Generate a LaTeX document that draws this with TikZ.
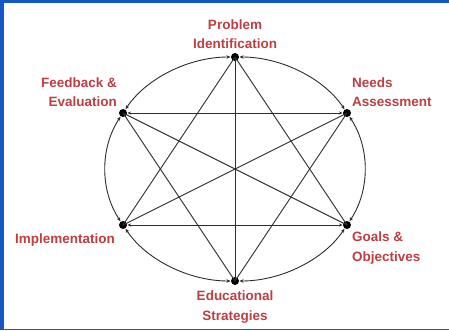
\documentclass[tikz,border=0pt]{standalone}
\usepackage{fontspec}
\setmainfont{Liberation Sans}
\usetikzlibrary{arrows.meta}
\definecolor{frameblue}{RGB}{20,88,200}
\definecolor{labelred}{RGB}{190,62,66}
\definecolor{linegray}{RGB}{45,45,45}
\begin{document}
\begin{tikzpicture}[x=1pt,y=1pt,
  dot/.style={circle,fill=black,inner sep=0pt,minimum size=8pt},
  lbl/.style={text=labelred,font=\fontsize{13.5}{19.5}\selectfont\bfseries,inner sep=0pt},
  link/.style={linegray,line width=0.9pt},
  arcl/.style={linegray,line width=0.9pt,{Stealth[length=4pt,width=3.5pt]}-{Stealth[length=4pt,width=3.5pt]},shorten <=4.5pt,shorten >=4.5pt},
  hlink/.style={link,{Stealth[length=3.5pt,width=3pt]}-{Stealth[length=3.5pt,width=3pt]},shorten <=4.5pt,shorten >=4.5pt}]
\useasboundingbox (0,0) rectangle (449,330);
\fill[white] (0,0) rectangle (449,330);
\fill[frameblue] (0,327) rectangle (449,330);
\fill[frameblue] (0,0) rectangle (4,330);
\fill[frameblue] (0,0) rectangle (449,1.5);
% points
\coordinate (c) at (235,161);
\node[dot] (top) at (235,273) {};
\node[dot] (ul) at (123,217) {};
\node[dot] (ur) at (347,217) {};
\node[dot] (ll) at (123,105) {};
\node[dot] (lr) at (347,105) {};
\node[dot] (bot) at (235,49) {};
% straight links
\draw[link] (top.center) -- (ll.center);
\draw[link] (top.center) -- (lr.center);
\draw[link] (top.center) -- (bot.center);
\draw[link] (bot.center) -- (ul.center);
\draw[link] (bot.center) -- (ur.center);
\draw[link] (ul.center) -- (lr.center);
\draw[link] (ur.center) -- (ll.center);
\draw[hlink] (ul.center) -- (ur.center);
\draw[hlink] (ll.center) -- (lr.center);
% elliptic arcs
\draw[arcl] (ur.center) arc[start angle=30,end angle=90,x radius=129.3,y radius=112];
\draw[arcl] (top.center) arc[start angle=90,end angle=150,x radius=129.3,y radius=112];
\draw[arcl] (ul.center) arc[start angle=150,end angle=210,x radius=129.3,y radius=112];
\draw[arcl] (ll.center) arc[start angle=210,end angle=270,x radius=129.3,y radius=112];
\draw[arcl] (bot.center) arc[start angle=270,end angle=330,x radius=129.3,y radius=112];
\draw[arcl] (lr.center) arc[start angle=330,end angle=390,x radius=129.3,y radius=112];
% labels
\node[lbl,align=center,anchor=south] (ltop) at (235,281) {Problem\\Identification};
\node[lbl,align=right,anchor=south east] (lul) at (117,223) {Feedback \&\\Evaluation};
\node[lbl,align=left,anchor=south west] (lur) at (352,223) {Needs\\Assessment};
\node[lbl,anchor=east] (lll) at (115,90) {Implementation};
\node[lbl,align=left,anchor=north west] (llr) at (352,98) {Goals \&\\Objectives};
\node[lbl,align=center,anchor=north] (lbot) at (235,39) {Educational\\Strategies};
\end{tikzpicture}
\end{document}
